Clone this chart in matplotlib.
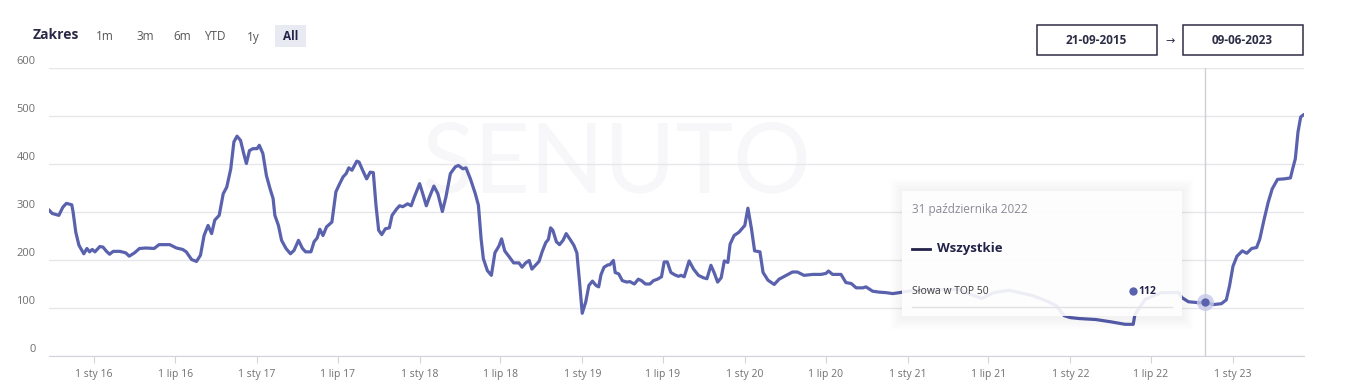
import matplotlib
matplotlib.use("Agg")
import matplotlib.pyplot as plt
import pandas as pd
from matplotlib.patches import Rectangle

plt.rcParams['font.family'] = ['Open Sans', 'DejaVu Sans']

# --- data: "Słowa w TOP 50" (Wszystkie) ---
dates = [
    "2015-09-21", "2015-09-29", "2015-10-14", "2015-10-23", "2015-10-31", "2015-11-12",
    "2015-11-15", "2015-11-21", "2015-11-28", "2015-12-09", "2015-12-16", "2015-12-22",
    "2015-12-28",
    "2016-01-03", "2016-01-08", "2016-01-14", "2016-01-21", "2016-01-29", "2016-02-05",
    "2016-02-13", "2016-02-28", "2016-03-12", "2016-03-20", "2016-04-01", "2016-04-12",
    "2016-04-27", "2016-05-15", "2016-05-26", "2016-06-19", "2016-07-04", "2016-07-18",
    "2016-07-26", "2016-08-07", "2016-08-18", "2016-08-27", "2016-09-04", "2016-09-13",
    "2016-09-21", "2016-09-28", "2016-10-08", "2016-10-17", "2016-10-25", "2016-11-03",
    "2016-11-10", "2016-11-17", "2016-11-25", "2016-12-02", "2016-12-08", "2016-12-15",
    "2016-12-23",
    "2017-01-01", "2017-01-06", "2017-01-14", "2017-01-22", "2017-01-30", "2017-02-06",
    "2017-02-10", "2017-02-18", "2017-02-25", "2017-03-07", "2017-03-17", "2017-03-25",
    "2017-04-04", "2017-04-13", "2017-04-20", "2017-05-02", "2017-05-09", "2017-05-16",
    "2017-05-22", "2017-05-29", "2017-06-06", "2017-06-18", "2017-06-27", "2017-07-04",
    "2017-07-13", "2017-07-20", "2017-07-26", "2017-08-02", "2017-08-13", "2017-08-18",
    "2017-08-26", "2017-09-04", "2017-09-12", "2017-09-19", "2017-09-25", "2017-10-01",
    "2017-10-08", "2017-10-16", "2017-10-25", "2017-10-31", "2017-11-11", "2017-11-17",
    "2017-11-24", "2017-12-05", "2017-12-13", "2017-12-20",
    "2018-01-01", "2018-01-08", "2018-01-16", "2018-01-23", "2018-02-02", "2018-02-11",
    "2018-02-21", "2018-03-01", "2018-03-11", "2018-03-22", "2018-03-29", "2018-04-08",
    "2018-04-15", "2018-04-25", "2018-05-06", "2018-05-13", "2018-05-19", "2018-05-24",
    "2018-06-02", "2018-06-11", "2018-06-19", "2018-06-28", "2018-07-04", "2018-07-11",
    "2018-07-20", "2018-07-31", "2018-08-12", "2018-08-19", "2018-08-27", "2018-09-04",
    "2018-09-10", "2018-09-19", "2018-09-26", "2018-10-03", "2018-10-11", "2018-10-17",
    "2018-10-22", "2018-10-27", "2018-11-04", "2018-11-11", "2018-11-19", "2018-11-26",
    "2018-12-04", "2018-12-13", "2018-12-20", "2018-12-26",
    "2019-01-01", "2019-01-09", "2019-01-16", "2019-01-24", "2019-02-01", "2019-02-07",
    "2019-02-12", "2019-02-19", "2019-02-28", "2019-03-04", "2019-03-12", "2019-03-16",
    "2019-03-24", "2019-04-01", "2019-04-11", "2019-04-18", "2019-04-28", "2019-05-07",
    "2019-05-14", "2019-05-23", "2019-06-02", "2019-06-10", "2019-06-19", "2019-06-28",
    "2019-07-04", "2019-07-11", "2019-07-19", "2019-07-28", "2019-08-05", "2019-08-11",
    "2019-08-18", "2019-08-29", "2019-09-08", "2019-09-19", "2019-09-30", "2019-10-08",
    "2019-10-17", "2019-10-24", "2019-11-01", "2019-11-09", "2019-11-16", "2019-11-24",
    "2019-11-29", "2019-12-08", "2019-12-19",
    "2020-01-01", "2020-01-08", "2020-01-16", "2020-01-23", "2020-02-04", "2020-02-11",
    "2020-02-22", "2020-03-07", "2020-03-18", "2020-04-03", "2020-04-17", "2020-04-28",
    "2020-05-13", "2020-06-02", "2020-06-20", "2020-07-01", "2020-07-07", "2020-07-16",
    "2020-08-04", "2020-08-15", "2020-08-27", "2020-09-07", "2020-09-22", "2020-09-29",
    "2020-10-14", "2020-10-29", "2020-11-13", "2020-11-28", "2020-12-13",
    "2021-01-01", "2021-02-19", "2021-04-25", "2021-05-17", "2021-06-16", "2021-07-13",
    "2021-08-16", "2021-10-07", "2021-11-08", "2021-11-30", "2021-12-18",
    "2022-01-01", "2022-01-21", "2022-02-27", "2022-04-03", "2022-05-04", "2022-05-22",
    "2022-05-26", "2022-06-18", "2022-07-24", "2022-09-01", "2022-09-08", "2022-09-23",
    "2022-10-16", "2022-10-31", "2022-11-17", "2022-12-06", "2022-12-17", "2022-12-24",
    "2023-01-01", "2023-01-10", "2023-01-22", "2023-02-01", "2023-02-12", "2023-02-23",
    "2023-03-02", "2023-03-12", "2023-03-21", "2023-03-30", "2023-04-11", "2023-04-26",
    "2023-05-10", "2023-05-15", "2023-05-21", "2023-05-27", "2023-06-02", "2023-06-09",
]
slowa_top50 = [
    305, 297, 293, 310, 318, 315, 300, 258, 231, 213, 224, 217, 222,
    217, 222, 228, 227, 218, 212, 218, 218, 215, 208, 215, 224, 225, 224, 232, 232,
    225, 222, 217, 201, 197, 210, 251, 272, 255, 283, 293, 338, 352, 390, 446, 458,
    449, 422, 401, 428, 432,
    432, 439, 422, 376, 349, 328, 293, 272, 241, 224, 213, 220, 241, 224, 217, 217,
    238, 246, 264, 251, 269, 279, 342, 356, 373, 380, 392, 387, 406, 404, 387, 369,
    383, 382, 314, 262, 253, 265, 267, 293, 307, 313, 311, 317, 313, 331,
    359, 338, 313, 331, 354, 338, 301, 331, 380, 394, 397, 390, 392, 369, 338, 314,
    244, 203, 178, 168, 215, 229, 244, 219, 208, 194, 194, 185, 194, 199, 181, 190,
    197, 217, 236, 243, 267, 262, 238, 232, 241, 255, 244, 231, 215, 154,
    89, 113, 147, 156, 147, 144, 169, 185, 190, 190, 199, 174, 171, 157, 154, 155,
    150, 160, 157, 150, 150, 157, 160, 165, 196, 196, 174, 169, 166, 168, 165, 198,
    181, 168, 163, 161, 189, 174, 154, 163, 198, 195, 233, 251, 258,
    272, 308, 265, 219, 217, 174, 158, 149, 160, 168, 175, 175, 168, 170, 170, 172,
    177, 170, 170, 153, 151, 142, 142, 144, 135, 133, 132, 130, 132,
    135, 138, 139, 130, 120, 132, 137, 126, 115, 105, 84,
    80, 78, 76, 71, 66, 66, 87, 118, 132, 132, 122, 113, 111, 112, 107, 109, 117, 145,
    187, 208, 219, 214, 224, 226, 243, 285, 320, 348, 368, 369, 371, 390, 411, 467,
    498, 503,
]

range_start, range_end = "2015-09-21", "2023-06-09"
y_ticks = [0, 100, 200, 300, 400, 500, 600]
tick_dates = ["2016-01-01", "2016-07-01", "2017-01-01", "2017-07-01", "2018-01-01",
              "2018-07-01", "2019-01-01", "2019-07-01", "2020-01-01", "2020-07-01",
              "2021-01-01", "2021-07-01", "2022-01-01", "2022-07-01", "2023-01-01"]
tick_labels = ["1 sty 16", "1 lip 16", "1 sty 17", "1 lip 17", "1 sty 18", "1 lip 18",
               "1 sty 19", "1 lip 19", "1 sty 20", "1 lip 20", "1 sty 21", "1 lip 21",
               "1 sty 22", "1 lip 22", "1 sty 23"]
range_buttons = ["1m", "3m", "6m", "YTD", "1y"]
hover_date, hover_value = "2022-10-31", 112

LINE = "#5a62ad"
NAVY = "#23224a"
W, H = 1345, 390


def fx(x):
    return x / W


def fy(y):
    return 1 - y / H


fig = plt.figure(figsize=(W / 100, H / 100), dpi=100, facecolor="white")
ax = fig.add_axes([fx(48.6), fy(356), (1303.8 - 48.6) / W, 288 / H])
ax.patch.set_alpha(0)

ax.plot(pd.to_datetime(dates), slowa_top50, color=LINE, lw=2.3,
        solid_joinstyle="round", solid_capstyle="round", zorder=3)
ax.set_xlim(pd.Timestamp(range_start), pd.Timestamp(range_end))
ax.set_ylim(0, 600)

ax.set_yticks(y_ticks)
ax.yaxis.grid(True, color="#e6e6eb", lw=1)
ax.tick_params(axis="y", length=0, labelleft=False)
for v in y_ticks:
    ax.annotate(str(v), xy=(0, v), xycoords=("axes fraction", "data"),
                xytext=(-13, 6), textcoords="offset pixels",
                ha="right", va="center", fontsize=8, color="#6f6f6f")

ax.set_xticks(pd.to_datetime(tick_dates))
ax.set_xticklabels(tick_labels)
ax.tick_params(axis="x", length=5, width=0.8, color="#d3d3da",
               labelcolor="#707070", labelsize=7.5, pad=4)
for s in ["left", "right", "top"]:
    ax.spines[s].set_visible(False)
ax.spines["bottom"].set_color("#d3d3da")

# watermark
ax.text(fx(617), fy(165), "SENUTO", transform=fig.transFigure, fontsize=70,
        family="Lato", color="#f7f7f9", ha="center", va="center", zorder=1)

# hover crosshair + point
hd = pd.Timestamp(hover_date)
ax.axvline(hd, color="#cfcfd5", lw=1, zorder=2)
ax.scatter([hd], [hover_value], s=150, color="#c6c9e8", alpha=0.8, zorder=4, lw=0)
ax.scatter([hd], [hover_value], s=36, color=LINE, zorder=5, lw=0)

# tooltip with soft shadow
for k in range(1, 13):
    fig.add_artist(Rectangle((fx(902 - k), fy(318 + k)), (280 + 2 * k) / W,
                             (127 + 2 * k) / H, transform=fig.transFigure,
                             fc="black", ec="none", alpha=0.005, zorder=6))
fig.add_artist(Rectangle((fx(902), fy(316)), 280 / W, 125 / H,
                         transform=fig.transFigure, fc="white", ec="none",
                         alpha=0.9, zorder=7))
fig.text(fx(912), fy(210), "31 października 2022", fontsize=8.5, color="#8a8a96",
         va="center", zorder=8)
fig.add_artist(plt.Line2D([fx(912), fx(930)], [fy(249), fy(249)],
                          transform=fig.transFigure, color=NAVY, lw=2, zorder=8))
fig.text(fx(937), fy(249), "Wszystkie", fontsize=9.5, weight="bold", color=NAVY,
         va="center", zorder=8)
fig.text(fx(912), fy(292), "Słowa w TOP 50", fontsize=7.5, color="#3a3a3a",
         va="center", zorder=8)
fig.add_artist(plt.Line2D([fx(1133)], [fy(291)], transform=fig.transFigure,
                          marker="o", ms=5, color=LINE, lw=0, zorder=8))
fig.text(fx(1138), fy(292), str(hover_value), fontsize=7.5, weight="bold",
         color=NAVY, va="center", zorder=8)
fig.add_artist(plt.Line2D([fx(912), fx(1172)], [fy(306.5), fy(306.5)],
                          transform=fig.transFigure, color="#e2e2e6", lw=1, zorder=8))

# header: range selector
fig.text(fx(33), fy(35), "Zakres", fontsize=10, weight="bold", color="#2a2a48",
         va="center")
for label, xc in zip(range_buttons, [105, 145, 182, 215, 253]):
    fig.text(fx(xc), fy(37), label, fontsize=8.5, color="#555555",
             ha="center", va="center")
fig.add_artist(Rectangle((fx(275), fy(47)), 31 / W, 22 / H, transform=fig.transFigure,
                         fc="#e8eaf2", ec="none"))
fig.text(fx(290.5), fy(37), "All", fontsize=8.5, weight="bold", color=NAVY,
         ha="center", va="center")

# header: date boxes
for x0, txt in [(1037, range_start), (1183, range_end)]:
    fig.add_artist(Rectangle((fx(x0), fy(55)), 120 / W, 30 / H,
                             transform=fig.transFigure, fc="white", ec="#2d2d45",
                             lw=1.1))
    d = pd.Timestamp(txt)
    fig.text(fx(x0 + 59), fy(40.5), d.strftime("%d-%m-%Y"), fontsize=8.5,
             weight="bold", color="#2d2d45", ha="center", va="center")
fig.text(fx(1170), fy(42), "→", fontsize=8, color="#2d2d45", ha="center",
         va="center")

fig.savefig("out.png", dpi=100)
